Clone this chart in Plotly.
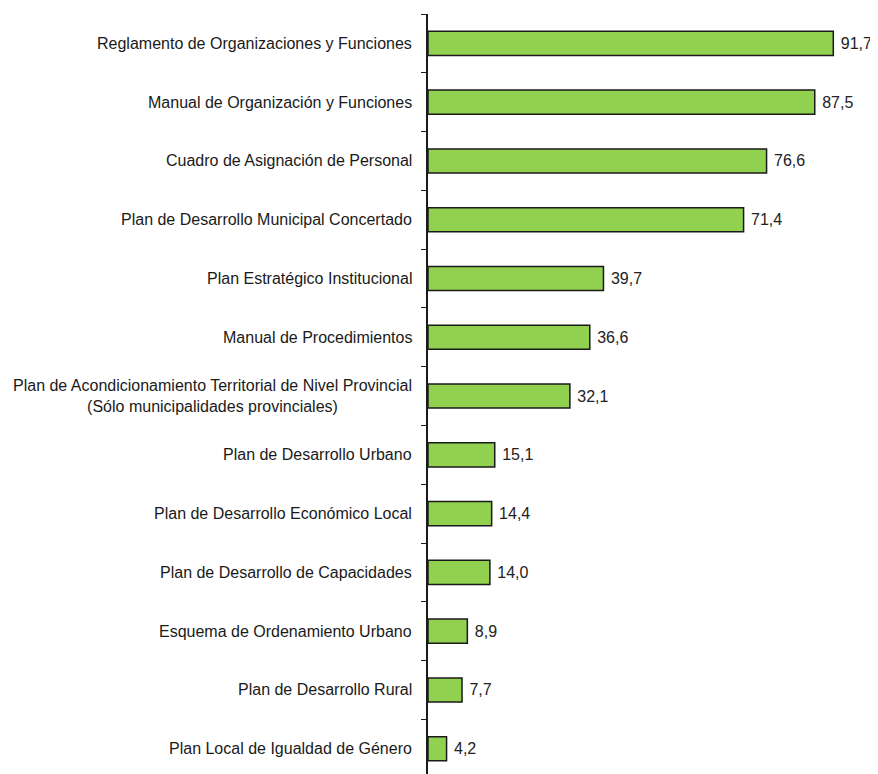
import plotly.graph_objects as go

# data, listed bottom to top
categories = [
    "Plan Local de Igualdad de Género",
    "Plan de Desarrollo Rural",
    "Esquema de Ordenamiento Urbano",
    "Plan de Desarrollo de Capacidades",
    "Plan de Desarrollo Económico Local",
    "Plan de Desarrollo Urbano",
    "Plan de Acondicionamiento Territorial de Nivel Provincial<br>(Sólo municipalidades provinciales)",
    "Manual de Procedimientos",
    "Plan Estratégico Institucional",
    "Plan de Desarrollo Municipal Concertado",
    "Cuadro de Asignación de Personal",
    "Manual de Organización y Funciones",
    "Reglamento de Organizaciones y Funciones",
]
values = [4.2, 7.7, 8.9, 14.0, 14.4, 15.1, 32.1, 36.6, 39.7, 71.4, 76.6, 87.5, 91.7]

labels = ["\u00a0" + f"{v:.1f}".replace(".", ",") for v in values]
font_name = "Liberation Sans Narrow, Arial Narrow, Liberation Sans, Arial"

fig = go.Figure()
fig.add_trace(go.Bar(
    x=values, y=categories, orientation="h",
    marker=dict(color="#92D050", line=dict(color="#1a1a1a", width=1.5)),
    width=0.41,
    text=labels, textposition="outside", cliponaxis=False,
    textfont=dict(family=font_name, size=16, color="#222222"),
))

for c in categories:
    fig.add_annotation(
        x=0, y=c, xref="paper", yref="y", text=c, showarrow=False,
        xanchor="right", align="center", xshift=-14,
        font=dict(family=font_name, size=16, color="#1a1a1a"),
    )

# the page body adds 8px around the figure
fig.update_layout(
    width=870, height=766,
    margin=dict(l=420, r=8, t=6, b=0),
    plot_bgcolor="white", paper_bgcolor="white",
    showlegend=False,
    xaxis=dict(range=[0, 100], visible=False),
    yaxis=dict(
        type="category", range=[-0.43, 12.5],
        showticklabels=False, showline=True, linecolor="#1a1a1a", linewidth=1.5,
        ticks="outside", ticklen=5, tickcolor="#1a1a1a", tickson="boundaries",
        showgrid=False, zeroline=False,
    ),
)

fig.write_html("out.html")
